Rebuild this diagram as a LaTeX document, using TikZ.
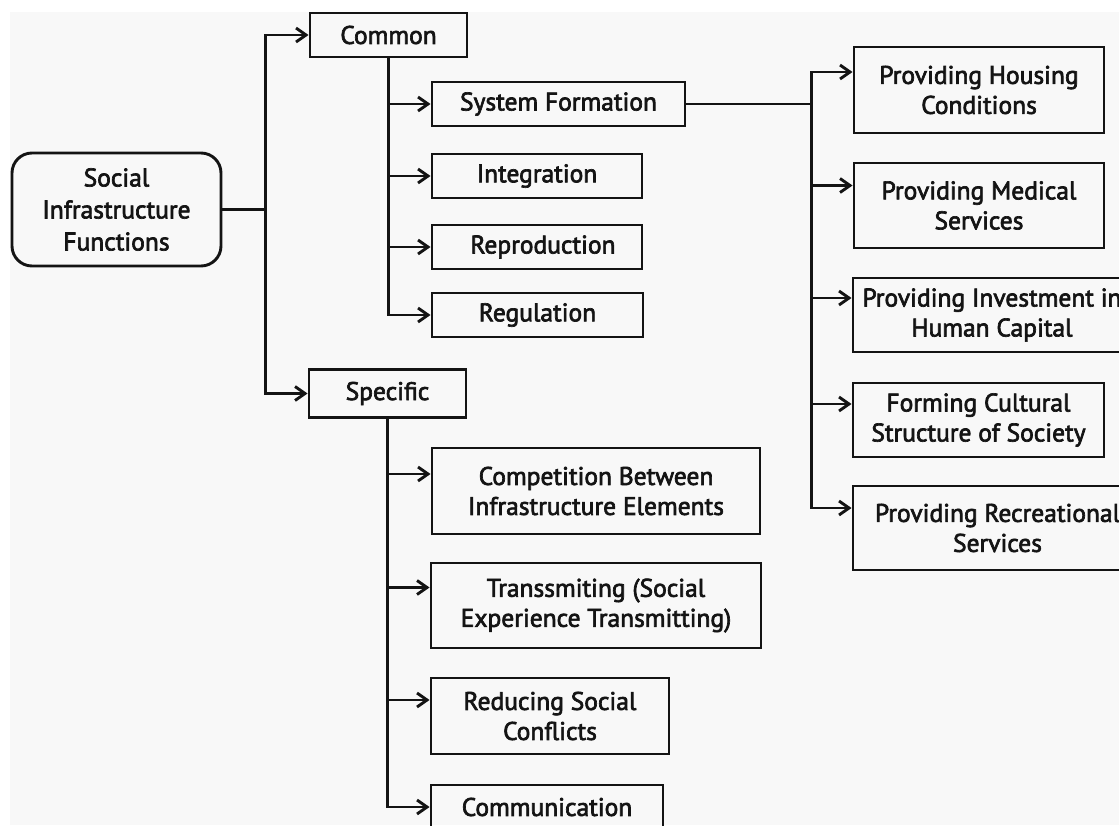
\documentclass[tikz,border=0pt]{standalone}
\usepackage{fontspec}
\usetikzlibrary{arrows.meta}
\newfontfamily\lblfont{PT Sans}[FakeBold=2.6]
\definecolor{ink}{HTML}{141414}
\definecolor{bgc}{HTML}{F8F8F8}
\begin{document}
\begin{tikzpicture}[x=1pt,y=-1pt,
  box/.style={draw=ink, line width=2.9pt, inner sep=0pt, align=center, text=ink,
    font=\lblfont\fontsize{25.5}{30}\selectfont},
  link/.style={draw=ink, line width=2.9pt},
  arr/.style={link, -{Straight Barb[length=10pt,width=14pt]}},
]
\useasboundingbox (0,0) rectangle (1119,825);
\clip (0,0) rectangle (1119,825);
\fill[white] (0,0) rectangle (1119,825);
\fill[bgc] (10,12) rectangle (1119,825);

% root
\node[box, rounded corners=20pt, minimum width=209pt, minimum height=113pt,
  font=\lblfont\fontsize{25.5}{32}\selectfont] (root) at (116.5,209.5)
  {Social\\Infrastructure\\Functions};

% level 1
\node[box, minimum width=157pt, minimum height=44pt] (common) at (388.5,35) {Common};
\node[box, minimum width=157pt, minimum height=48pt] (spec) at (387.5,393.5) {Specific};

% common children
\node[box, minimum width=253pt, minimum height=44pt] (sysf) at (558.5,104) {System Formation};
\node[box, minimum width=210pt, minimum height=44pt] (integ) at (537,176) {Integration};
\node[box, minimum width=210pt, minimum height=44pt] (repro) at (537,247) {\hspace*{12pt}Reproduction};
\node[box, minimum width=211pt, minimum height=44pt] (regul) at (537.5,315) {Regulation};

% system formation children
\node[box, minimum width=250pt, minimum height=86pt] (hous) at (979,90) {Providing Housing\\Conditions};
\node[box, minimum width=250pt, minimum height=85pt] (medic) at (979,205.5) {Providing Medical\\Services};
\node[box, minimum width=278pt, minimum height=74pt] (invest) at (992,315) {Providing Investment in\\Human Capital};
\node[box, minimum width=251pt, minimum height=74pt] (cult) at (978.5,420) {Forming Cultural\\Structure of Society};
\node[box, minimum width=289pt, minimum height=84pt] (recr) at (997.5,528) {Providing Recreational\\Services};

% specific children
\node[box, minimum width=328pt, minimum height=86pt] (comp) at (596,491) {Competition Between\\Infrastructure Elements};
\node[box, minimum width=330pt, minimum height=85pt] (trans) at (596,605.5) {Transsmiting (Social\\Experience Transmitting)};
\node[box, minimum width=238pt, minimum height=76pt] (reduc) at (550,716) {Reducing Social\\Conflicts};
\node[box, minimum width=232pt, minimum height=44pt] (commu) at (547,807) {Communication};

% connectors
\coordinate (j1) at ([xshift=43pt]root.east);
\draw[link] (root.east) -- (j1);
\draw[arr] (j1) |- (common.west);
\draw[arr] (j1) |- (spec.west);

\draw[arr] (common.south) |- (sysf.west);
\draw[arr] (common.south) |- (integ.west);
\draw[arr] (common.south) |- (repro.west);
\draw[arr] (common.south) |- (regul.west);

\coordinate (j2) at ([xshift=125pt]sysf.east);
\draw[link] (sysf.east) -- (j2);
\draw[arr] (j2) |- ([yshift=18pt]hous.west);
\draw[arr] (j2) |- ([yshift=20pt]medic.west);
\draw[arr] (j2) |- ([yshift=17pt]invest.west);
\draw[arr] (j2) |- ([yshift=16pt]cult.west);
\draw[arr] (j2) |- ([yshift=20pt]recr.west);

\draw[arr] (spec.south) |- ([yshift=17pt]comp.west);
\draw[arr] (spec.south) |- ([yshift=18pt]trans.west);
\draw[arr] (spec.south) |- ([yshift=16pt]reduc.west);
\draw[arr] (spec.south) |- (commu.west);
\end{tikzpicture}
\end{document}
